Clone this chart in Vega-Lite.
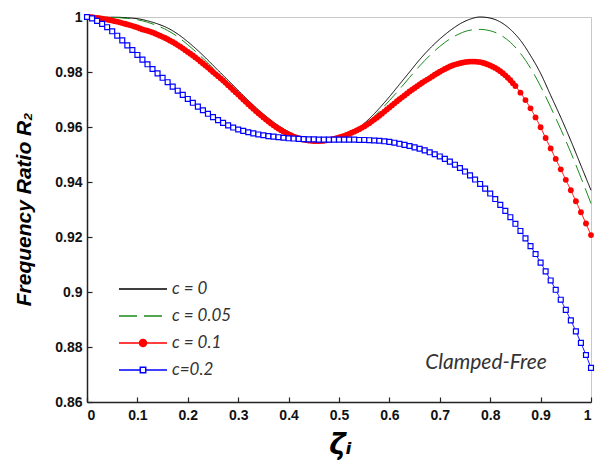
{
"$schema": "https://vega.github.io/schema/vega-lite/v6.json",
"width": 504, "height": 385,
"autosize": {"type": "none"},
"padding": {"left": 87, "top": 17, "right": 9, "bottom": 63},
"background": "white",
"config": {
 "view": {"stroke": "#c8c8c8", "strokeWidth": 1},
 "axis": {"domainColor": "#222", "domainWidth": 1.5, "tickColor": "#222", "tickWidth": 1.2, "tickSize": -5, "labelFont": "Liberation Sans", "labelFontWeight": "bold", "labelFontSize": 14, "labelColor": "#111", "grid": false, "titleFont": "Liberation Sans", "titleFontWeight": "bold", "titleFontStyle": "italic", "titleColor": "#000"}
},
"datasets": {
"main": [
{"x":0,"R":1,"c":"c = 0"},{"x":0.02,"R":1,"c":"c = 0"},{"x":0.04,"R":0.9999,"c":"c = 0"},{"x":0.06,"R":0.9999,"c":"c = 0"},{"x":0.08,"R":0.9997,"c":"c = 0"},{"x":0.1,"R":0.9994,"c":"c = 0"},{"x":0.12,"R":0.9986,"c":"c = 0"},{"x":0.14,"R":0.9975,"c":"c = 0"},{"x":0.16,"R":0.996,"c":"c = 0"},{"x":0.18,"R":0.9938,"c":"c = 0"},{"x":0.2,"R":0.991,"c":"c = 0"},{"x":0.22,"R":0.9878,"c":"c = 0"},{"x":0.24,"R":0.9843,"c":"c = 0"},{"x":0.26,"R":0.9806,"c":"c = 0"},{"x":0.28,"R":0.977,"c":"c = 0"},{"x":0.3,"R":0.9733,"c":"c = 0"},{"x":0.32,"R":0.9697,"c":"c = 0"},{"x":0.34,"R":0.9663,"c":"c = 0"},{"x":0.36,"R":0.9632,"c":"c = 0"},{"x":0.38,"R":0.9605,"c":"c = 0"},{"x":0.4,"R":0.9583,"c":"c = 0"},{"x":0.42,"R":0.9566,"c":"c = 0"},{"x":0.44,"R":0.9555,"c":"c = 0"},{"x":0.46,"R":0.955,"c":"c = 0"},{"x":0.48,"R":0.9551,"c":"c = 0"},{"x":0.5,"R":0.9558,"c":"c = 0"},{"x":0.52,"R":0.9574,"c":"c = 0"},{"x":0.54,"R":0.9598,"c":"c = 0"},{"x":0.56,"R":0.963,"c":"c = 0"},{"x":0.58,"R":0.9668,"c":"c = 0"},{"x":0.6,"R":0.971,"c":"c = 0"},{"x":0.62,"R":0.9755,"c":"c = 0"},{"x":0.64,"R":0.98,"c":"c = 0"},{"x":0.66,"R":0.9845,"c":"c = 0"},{"x":0.68,"R":0.9885,"c":"c = 0"},{"x":0.7,"R":0.992,"c":"c = 0"},{"x":0.72,"R":0.995,"c":"c = 0"},{"x":0.74,"R":0.9975,"c":"c = 0"},{"x":0.76,"R":0.9992,"c":"c = 0"},{"x":0.78,"R":1,"c":"c = 0"},{"x":0.8,"R":0.9996,"c":"c = 0"},{"x":0.82,"R":0.9982,"c":"c = 0"},{"x":0.84,"R":0.9955,"c":"c = 0"},{"x":0.86,"R":0.9915,"c":"c = 0"},{"x":0.88,"R":0.986,"c":"c = 0"},{"x":0.9,"R":0.9795,"c":"c = 0"},{"x":0.92,"R":0.9715,"c":"c = 0"},{"x":0.94,"R":0.9635,"c":"c = 0"},{"x":0.96,"R":0.955,"c":"c = 0"},{"x":0.98,"R":0.946,"c":"c = 0"},{"x":1,"R":0.937,"c":"c = 0"},
{"x":0,"R":1,"c":"c = 0.05"},{"x":0.02,"R":1,"c":"c = 0.05"},{"x":0.04,"R":0.9999,"c":"c = 0.05"},{"x":0.06,"R":0.9998,"c":"c = 0.05"},{"x":0.08,"R":0.9995,"c":"c = 0.05"},{"x":0.1,"R":0.999,"c":"c = 0.05"},{"x":0.12,"R":0.9981,"c":"c = 0.05"},{"x":0.14,"R":0.9968,"c":"c = 0.05"},{"x":0.16,"R":0.9951,"c":"c = 0.05"},{"x":0.18,"R":0.9928,"c":"c = 0.05"},{"x":0.2,"R":0.9899,"c":"c = 0.05"},{"x":0.22,"R":0.9867,"c":"c = 0.05"},{"x":0.24,"R":0.9832,"c":"c = 0.05"},{"x":0.26,"R":0.9796,"c":"c = 0.05"},{"x":0.28,"R":0.976,"c":"c = 0.05"},{"x":0.3,"R":0.9724,"c":"c = 0.05"},{"x":0.32,"R":0.9689,"c":"c = 0.05"},{"x":0.34,"R":0.9656,"c":"c = 0.05"},{"x":0.36,"R":0.9627,"c":"c = 0.05"},{"x":0.38,"R":0.9601,"c":"c = 0.05"},{"x":0.4,"R":0.958,"c":"c = 0.05"},{"x":0.42,"R":0.9564,"c":"c = 0.05"},{"x":0.44,"R":0.9554,"c":"c = 0.05"},{"x":0.46,"R":0.955,"c":"c = 0.05"},{"x":0.48,"R":0.9551,"c":"c = 0.05"},{"x":0.5,"R":0.9557,"c":"c = 0.05"},{"x":0.52,"R":0.9571,"c":"c = 0.05"},{"x":0.54,"R":0.9593,"c":"c = 0.05"},{"x":0.56,"R":0.9622,"c":"c = 0.05"},{"x":0.58,"R":0.9657,"c":"c = 0.05"},{"x":0.6,"R":0.9696,"c":"c = 0.05"},{"x":0.62,"R":0.9737,"c":"c = 0.05"},{"x":0.64,"R":0.978,"c":"c = 0.05"},{"x":0.66,"R":0.9822,"c":"c = 0.05"},{"x":0.68,"R":0.986,"c":"c = 0.05"},{"x":0.7,"R":0.9893,"c":"c = 0.05"},{"x":0.72,"R":0.992,"c":"c = 0.05"},{"x":0.74,"R":0.994,"c":"c = 0.05"},{"x":0.76,"R":0.9952,"c":"c = 0.05"},{"x":0.78,"R":0.9955,"c":"c = 0.05"},{"x":0.8,"R":0.995,"c":"c = 0.05"},{"x":0.82,"R":0.9935,"c":"c = 0.05"},{"x":0.84,"R":0.9908,"c":"c = 0.05"},{"x":0.86,"R":0.9868,"c":"c = 0.05"},{"x":0.88,"R":0.9814,"c":"c = 0.05"},{"x":0.9,"R":0.9748,"c":"c = 0.05"},{"x":0.92,"R":0.9672,"c":"c = 0.05"},{"x":0.94,"R":0.9592,"c":"c = 0.05"},{"x":0.96,"R":0.9507,"c":"c = 0.05"},{"x":0.98,"R":0.9416,"c":"c = 0.05"},{"x":1,"R":0.9322,"c":"c = 0.05"},
{"x":0,"R":1,"c":"c = 0.1"},{"x":0.01,"R":0.9999,"c":"c = 0.1"},{"x":0.02,"R":0.9997,"c":"c = 0.1"},{"x":0.03,"R":0.9994,"c":"c = 0.1"},{"x":0.04,"R":0.9991,"c":"c = 0.1"},{"x":0.05,"R":0.9987,"c":"c = 0.1"},{"x":0.06,"R":0.9983,"c":"c = 0.1"},{"x":0.07,"R":0.9978,"c":"c = 0.1"},{"x":0.08,"R":0.9973,"c":"c = 0.1"},{"x":0.09,"R":0.9968,"c":"c = 0.1"},{"x":0.1,"R":0.9962,"c":"c = 0.1"},{"x":0.11,"R":0.9955,"c":"c = 0.1"},{"x":0.12,"R":0.995,"c":"c = 0.1"},{"x":0.13,"R":0.9944,"c":"c = 0.1"},{"x":0.14,"R":0.9936,"c":"c = 0.1"},{"x":0.15,"R":0.9928,"c":"c = 0.1"},{"x":0.16,"R":0.9919,"c":"c = 0.1"},{"x":0.17,"R":0.9909,"c":"c = 0.1"},{"x":0.18,"R":0.9898,"c":"c = 0.1"},{"x":0.19,"R":0.9886,"c":"c = 0.1"},{"x":0.2,"R":0.9873,"c":"c = 0.1"},{"x":0.21,"R":0.986,"c":"c = 0.1"},{"x":0.22,"R":0.9846,"c":"c = 0.1"},{"x":0.23,"R":0.9831,"c":"c = 0.1"},{"x":0.24,"R":0.9816,"c":"c = 0.1"},{"x":0.25,"R":0.98,"c":"c = 0.1"},{"x":0.26,"R":0.9785,"c":"c = 0.1"},{"x":0.27,"R":0.9769,"c":"c = 0.1"},{"x":0.28,"R":0.9752,"c":"c = 0.1"},{"x":0.29,"R":0.9735,"c":"c = 0.1"},{"x":0.3,"R":0.9718,"c":"c = 0.1"},{"x":0.31,"R":0.97,"c":"c = 0.1"},{"x":0.32,"R":0.9683,"c":"c = 0.1"},{"x":0.33,"R":0.9666,"c":"c = 0.1"},{"x":0.34,"R":0.965,"c":"c = 0.1"},{"x":0.35,"R":0.9635,"c":"c = 0.1"},{"x":0.36,"R":0.962,"c":"c = 0.1"},{"x":0.37,"R":0.9606,"c":"c = 0.1"},{"x":0.38,"R":0.9594,"c":"c = 0.1"},{"x":0.39,"R":0.9583,"c":"c = 0.1"},{"x":0.4,"R":0.9573,"c":"c = 0.1"},{"x":0.41,"R":0.9565,"c":"c = 0.1"},{"x":0.42,"R":0.9559,"c":"c = 0.1"},{"x":0.43,"R":0.9554,"c":"c = 0.1"},{"x":0.44,"R":0.9551,"c":"c = 0.1"},{"x":0.45,"R":0.9549,"c":"c = 0.1"},{"x":0.46,"R":0.9549,"c":"c = 0.1"},{"x":0.47,"R":0.955,"c":"c = 0.1"},{"x":0.48,"R":0.9553,"c":"c = 0.1"},{"x":0.49,"R":0.9557,"c":"c = 0.1"},{"x":0.5,"R":0.9562,"c":"c = 0.1"},{"x":0.51,"R":0.9568,"c":"c = 0.1"},{"x":0.52,"R":0.9575,"c":"c = 0.1"},{"x":0.53,"R":0.9583,"c":"c = 0.1"},{"x":0.54,"R":0.9592,"c":"c = 0.1"},{"x":0.55,"R":0.9602,"c":"c = 0.1"},{"x":0.56,"R":0.9614,"c":"c = 0.1"},{"x":0.57,"R":0.9627,"c":"c = 0.1"},{"x":0.58,"R":0.9641,"c":"c = 0.1"},{"x":0.59,"R":0.9656,"c":"c = 0.1"},{"x":0.6,"R":0.9671,"c":"c = 0.1"},{"x":0.61,"R":0.9686,"c":"c = 0.1"},{"x":0.62,"R":0.9701,"c":"c = 0.1"},{"x":0.63,"R":0.9715,"c":"c = 0.1"},{"x":0.64,"R":0.9729,"c":"c = 0.1"},{"x":0.65,"R":0.9742,"c":"c = 0.1"},{"x":0.66,"R":0.9755,"c":"c = 0.1"},{"x":0.67,"R":0.9767,"c":"c = 0.1"},{"x":0.68,"R":0.9778,"c":"c = 0.1"},{"x":0.69,"R":0.979,"c":"c = 0.1"},{"x":0.7,"R":0.9801,"c":"c = 0.1"},{"x":0.71,"R":0.9811,"c":"c = 0.1"},{"x":0.72,"R":0.982,"c":"c = 0.1"},{"x":0.73,"R":0.9827,"c":"c = 0.1"},{"x":0.74,"R":0.9832,"c":"c = 0.1"},{"x":0.75,"R":0.9836,"c":"c = 0.1"},{"x":0.76,"R":0.9838,"c":"c = 0.1"},{"x":0.77,"R":0.9838,"c":"c = 0.1"},{"x":0.78,"R":0.9836,"c":"c = 0.1"},{"x":0.79,"R":0.9831,"c":"c = 0.1"},{"x":0.8,"R":0.9824,"c":"c = 0.1"},{"x":0.81,"R":0.9815,"c":"c = 0.1"},{"x":0.82,"R":0.9803,"c":"c = 0.1"},{"x":0.83,"R":0.9788,"c":"c = 0.1"},{"x":0.84,"R":0.977,"c":"c = 0.1"},{"x":0.85,"R":0.9749,"c":"c = 0.1"},{"x":0.86,"R":0.9725,"c":"c = 0.1"},{"x":0.87,"R":0.9698,"c":"c = 0.1"},{"x":0.88,"R":0.9668,"c":"c = 0.1"},{"x":0.89,"R":0.9635,"c":"c = 0.1"},{"x":0.9,"R":0.9599,"c":"c = 0.1"},{"x":0.91,"R":0.956,"c":"c = 0.1"},{"x":0.92,"R":0.9522,"c":"c = 0.1"},{"x":0.93,"R":0.9484,"c":"c = 0.1"},{"x":0.94,"R":0.9446,"c":"c = 0.1"},{"x":0.95,"R":0.9408,"c":"c = 0.1"},{"x":0.96,"R":0.937,"c":"c = 0.1"},{"x":0.97,"R":0.933,"c":"c = 0.1"},{"x":0.98,"R":0.929,"c":"c = 0.1"},{"x":0.99,"R":0.9249,"c":"c = 0.1"},{"x":1,"R":0.9207,"c":"c = 0.1"},
{"x":0.005,"R":0.99995,"c":"c = 0.1"},{"x":0.015,"R":0.9998,"c":"c = 0.1"},{"x":0.025,"R":0.99955,"c":"c = 0.1"},{"x":0.035,"R":0.99925,"c":"c = 0.1"},{"x":0.045,"R":0.9989,"c":"c = 0.1"},{"x":0.055,"R":0.9985,"c":"c = 0.1"},{"x":0.065,"R":0.99805,"c":"c = 0.1"},{"x":0.075,"R":0.99755,"c":"c = 0.1"},{"x":0.085,"R":0.99705,"c":"c = 0.1"},{"x":0.095,"R":0.9965,"c":"c = 0.1"},{"x":0.105,"R":0.99585,"c":"c = 0.1"},{"x":0.115,"R":0.99525,"c":"c = 0.1"},{"x":0.125,"R":0.9947,"c":"c = 0.1"},{"x":0.135,"R":0.994,"c":"c = 0.1"},{"x":0.145,"R":0.9932,"c":"c = 0.1"},{"x":0.155,"R":0.99235,"c":"c = 0.1"},{"x":0.165,"R":0.9914,"c":"c = 0.1"},{"x":0.175,"R":0.99035,"c":"c = 0.1"},{"x":0.185,"R":0.9892,"c":"c = 0.1"},{"x":0.195,"R":0.98795,"c":"c = 0.1"},{"x":0.205,"R":0.98665,"c":"c = 0.1"},{"x":0.215,"R":0.9853,"c":"c = 0.1"},{"x":0.225,"R":0.98385,"c":"c = 0.1"},{"x":0.235,"R":0.98235,"c":"c = 0.1"},{"x":0.245,"R":0.9808,"c":"c = 0.1"},{"x":0.255,"R":0.97925,"c":"c = 0.1"},{"x":0.265,"R":0.9777,"c":"c = 0.1"},{"x":0.275,"R":0.97605,"c":"c = 0.1"},{"x":0.285,"R":0.97435,"c":"c = 0.1"},{"x":0.295,"R":0.97265,"c":"c = 0.1"},{"x":0.305,"R":0.9709,"c":"c = 0.1"},{"x":0.315,"R":0.96915,"c":"c = 0.1"},{"x":0.325,"R":0.96745,"c":"c = 0.1"},{"x":0.335,"R":0.9658,"c":"c = 0.1"},{"x":0.345,"R":0.96425,"c":"c = 0.1"},{"x":0.355,"R":0.96275,"c":"c = 0.1"},{"x":0.365,"R":0.9613,"c":"c = 0.1"},{"x":0.375,"R":0.96,"c":"c = 0.1"},{"x":0.385,"R":0.95885,"c":"c = 0.1"},{"x":0.395,"R":0.9578,"c":"c = 0.1"},{"x":0.405,"R":0.9569,"c":"c = 0.1"},{"x":0.415,"R":0.9562,"c":"c = 0.1"},{"x":0.425,"R":0.95565,"c":"c = 0.1"},{"x":0.435,"R":0.95525,"c":"c = 0.1"},{"x":0.445,"R":0.955,"c":"c = 0.1"},{"x":0.455,"R":0.9549,"c":"c = 0.1"},{"x":0.465,"R":0.95495,"c":"c = 0.1"},{"x":0.475,"R":0.95515,"c":"c = 0.1"},{"x":0.485,"R":0.9555,"c":"c = 0.1"},{"x":0.495,"R":0.95595,"c":"c = 0.1"},{"x":0.505,"R":0.9565,"c":"c = 0.1"},{"x":0.515,"R":0.95715,"c":"c = 0.1"},{"x":0.525,"R":0.9579,"c":"c = 0.1"},{"x":0.535,"R":0.95875,"c":"c = 0.1"},{"x":0.545,"R":0.9597,"c":"c = 0.1"},{"x":0.555,"R":0.9608,"c":"c = 0.1"},{"x":0.565,"R":0.96205,"c":"c = 0.1"},{"x":0.575,"R":0.9634,"c":"c = 0.1"},{"x":0.585,"R":0.96485,"c":"c = 0.1"},{"x":0.595,"R":0.96635,"c":"c = 0.1"},{"x":0.605,"R":0.96785,"c":"c = 0.1"},{"x":0.615,"R":0.96935,"c":"c = 0.1"},{"x":0.625,"R":0.9708,"c":"c = 0.1"},{"x":0.635,"R":0.9722,"c":"c = 0.1"},{"x":0.645,"R":0.97355,"c":"c = 0.1"},{"x":0.655,"R":0.97485,"c":"c = 0.1"},{"x":0.665,"R":0.9761,"c":"c = 0.1"},{"x":0.675,"R":0.97725,"c":"c = 0.1"},{"x":0.685,"R":0.9784,"c":"c = 0.1"},{"x":0.695,"R":0.97955,"c":"c = 0.1"},{"x":0.705,"R":0.9806,"c":"c = 0.1"},{"x":0.715,"R":0.98155,"c":"c = 0.1"},{"x":0.725,"R":0.98235,"c":"c = 0.1"},{"x":0.735,"R":0.98295,"c":"c = 0.1"},{"x":0.745,"R":0.9834,"c":"c = 0.1"},{"x":0.755,"R":0.9837,"c":"c = 0.1"},{"x":0.765,"R":0.9838,"c":"c = 0.1"},{"x":0.775,"R":0.9837,"c":"c = 0.1"},{"x":0.785,"R":0.98335,"c":"c = 0.1"},{"x":0.795,"R":0.98275,"c":"c = 0.1"},{"x":0.805,"R":0.98195,"c":"c = 0.1"},{"x":0.815,"R":0.9809,"c":"c = 0.1"},{"x":0.825,"R":0.97955,"c":"c = 0.1"},{"x":0.835,"R":0.9779,"c":"c = 0.1"},{"x":0.845,"R":0.97595,"c":"c = 0.1"},
{"x":0,"R":1,"c":"c=0.2"},{"x":0.01,"R":0.9995,"c":"c=0.2"},{"x":0.02,"R":0.9986,"c":"c=0.2"},{"x":0.03,"R":0.9975,"c":"c=0.2"},{"x":0.04,"R":0.9963,"c":"c=0.2"},{"x":0.05,"R":0.9948,"c":"c=0.2"},{"x":0.06,"R":0.9932,"c":"c=0.2"},{"x":0.07,"R":0.9915,"c":"c=0.2"},{"x":0.08,"R":0.9897,"c":"c=0.2"},{"x":0.09,"R":0.988,"c":"c=0.2"},{"x":0.1,"R":0.9862,"c":"c=0.2"},{"x":0.11,"R":0.9845,"c":"c=0.2"},{"x":0.12,"R":0.9828,"c":"c=0.2"},{"x":0.13,"R":0.9811,"c":"c=0.2"},{"x":0.14,"R":0.9795,"c":"c=0.2"},{"x":0.15,"R":0.9779,"c":"c=0.2"},{"x":0.16,"R":0.9763,"c":"c=0.2"},{"x":0.17,"R":0.9747,"c":"c=0.2"},{"x":0.18,"R":0.9732,"c":"c=0.2"},{"x":0.19,"R":0.9717,"c":"c=0.2"},{"x":0.2,"R":0.9702,"c":"c=0.2"},{"x":0.21,"R":0.9688,"c":"c=0.2"},{"x":0.22,"R":0.9674,"c":"c=0.2"},{"x":0.23,"R":0.9661,"c":"c=0.2"},{"x":0.24,"R":0.9648,"c":"c=0.2"},{"x":0.25,"R":0.9636,"c":"c=0.2"},{"x":0.26,"R":0.9625,"c":"c=0.2"},{"x":0.27,"R":0.9615,"c":"c=0.2"},{"x":0.28,"R":0.9606,"c":"c=0.2"},{"x":0.29,"R":0.9598,"c":"c=0.2"},{"x":0.3,"R":0.9591,"c":"c=0.2"},{"x":0.31,"R":0.9586,"c":"c=0.2"},{"x":0.32,"R":0.9581,"c":"c=0.2"},{"x":0.33,"R":0.9577,"c":"c=0.2"},{"x":0.34,"R":0.9573,"c":"c=0.2"},{"x":0.35,"R":0.957,"c":"c=0.2"},{"x":0.36,"R":0.9567,"c":"c=0.2"},{"x":0.37,"R":0.9565,"c":"c=0.2"},{"x":0.38,"R":0.9563,"c":"c=0.2"},{"x":0.39,"R":0.9561,"c":"c=0.2"},{"x":0.4,"R":0.9559,"c":"c=0.2"},{"x":0.41,"R":0.9558,"c":"c=0.2"},{"x":0.42,"R":0.9557,"c":"c=0.2"},{"x":0.43,"R":0.9556,"c":"c=0.2"},{"x":0.44,"R":0.9555,"c":"c=0.2"},{"x":0.45,"R":0.9555,"c":"c=0.2"},{"x":0.46,"R":0.9554,"c":"c=0.2"},{"x":0.47,"R":0.9554,"c":"c=0.2"},{"x":0.48,"R":0.9554,"c":"c=0.2"},{"x":0.49,"R":0.9554,"c":"c=0.2"},{"x":0.5,"R":0.9554,"c":"c=0.2"},{"x":0.51,"R":0.9554,"c":"c=0.2"},{"x":0.52,"R":0.9554,"c":"c=0.2"},{"x":0.53,"R":0.9554,"c":"c=0.2"},{"x":0.54,"R":0.9553,"c":"c=0.2"},{"x":0.55,"R":0.9553,"c":"c=0.2"},{"x":0.56,"R":0.9552,"c":"c=0.2"},{"x":0.57,"R":0.9551,"c":"c=0.2"},{"x":0.58,"R":0.955,"c":"c=0.2"},{"x":0.59,"R":0.9548,"c":"c=0.2"},{"x":0.6,"R":0.9546,"c":"c=0.2"},{"x":0.61,"R":0.9543,"c":"c=0.2"},{"x":0.62,"R":0.9539,"c":"c=0.2"},{"x":0.63,"R":0.9535,"c":"c=0.2"},{"x":0.64,"R":0.9531,"c":"c=0.2"},{"x":0.65,"R":0.9526,"c":"c=0.2"},{"x":0.66,"R":0.9521,"c":"c=0.2"},{"x":0.67,"R":0.9515,"c":"c=0.2"},{"x":0.68,"R":0.9508,"c":"c=0.2"},{"x":0.69,"R":0.9501,"c":"c=0.2"},{"x":0.7,"R":0.9493,"c":"c=0.2"},{"x":0.71,"R":0.9484,"c":"c=0.2"},{"x":0.72,"R":0.9474,"c":"c=0.2"},{"x":0.73,"R":0.9463,"c":"c=0.2"},{"x":0.74,"R":0.9451,"c":"c=0.2"},{"x":0.75,"R":0.9438,"c":"c=0.2"},{"x":0.76,"R":0.9424,"c":"c=0.2"},{"x":0.77,"R":0.9409,"c":"c=0.2"},{"x":0.78,"R":0.9393,"c":"c=0.2"},{"x":0.79,"R":0.9376,"c":"c=0.2"},{"x":0.8,"R":0.9358,"c":"c=0.2"},{"x":0.81,"R":0.9338,"c":"c=0.2"},{"x":0.82,"R":0.9317,"c":"c=0.2"},{"x":0.83,"R":0.9295,"c":"c=0.2"},{"x":0.84,"R":0.9272,"c":"c=0.2"},{"x":0.85,"R":0.9248,"c":"c=0.2"},{"x":0.86,"R":0.9222,"c":"c=0.2"},{"x":0.87,"R":0.9195,"c":"c=0.2"},{"x":0.88,"R":0.9167,"c":"c=0.2"},{"x":0.89,"R":0.9138,"c":"c=0.2"},{"x":0.9,"R":0.9107,"c":"c=0.2"},{"x":0.91,"R":0.9075,"c":"c=0.2"},{"x":0.92,"R":0.9042,"c":"c=0.2"},{"x":0.93,"R":0.9008,"c":"c=0.2"},{"x":0.94,"R":0.8972,"c":"c=0.2"},{"x":0.95,"R":0.8935,"c":"c=0.2"},{"x":0.96,"R":0.8897,"c":"c=0.2"},{"x":0.97,"R":0.8857,"c":"c=0.2"},{"x":0.98,"R":0.8815,"c":"c=0.2"},{"x":0.99,"R":0.8771,"c":"c=0.2"},{"x":1,"R":0.8724,"c":"c=0.2"}
],
"note": [{"x":0.7917,"R":0.8742,"label":"Clamped-Free"}]
},
"data": {"name": "main"},
"encoding": {
 "x": {"field": "x", "type": "quantitative", "scale": {"domain": [0, 1], "nice": false},
   "axis": {"values": [0,0.1,0.2,0.3,0.4,0.5,0.6,0.7,0.8,0.9,1], "format": ".1~f", "labelPadding": 11, "title": "ζᵢ", "titleFont": "DejaVu Sans", "titleFontSize": 28, "titleX": 253, "titleY": 43, "titleBaseline": "middle", "titleAlign": "center"}},
 "y": {"field": "R", "type": "quantitative", "scale": {"domain": [0.86, 1], "nice": false, "zero": false},
   "axis": {"values": [0.86,0.88,0.9,0.92,0.94,0.96,0.98,1], "format": ".2~f", "labelPadding": 10, "title": "Frequency Ratio R₂", "titleFontSize": 21, "titleX": -63, "titleY": 192, "titleAngle": -90, "titleAlign": "center", "titleBaseline": "middle"}}
},
"layer": [
 {"mark": {"type": "line", "strokeWidth": 1, "interpolate": "monotone"},
  "encoding": {
   "stroke": {"field": "c", "type": "nominal",
     "scale": {"domain": ["c = 0", "c = 0.05", "c = 0.1", "c=0.2"], "range": ["#000000", "#1a8a1a", "#ff0000", "#0000ff"]},
     "legend": {"title": null, "orient": "none", "legendX": 45, "legendY": 261, "padding": 0, "symbolSize": 400, "symbolStrokeWidth": 1.5, "labelOffset": 18, "labelFont": "Lato", "labelFontStyle": "italic", "labelFontSize": 17, "labelColor": "#333", "rowPadding": 8,
       "encode": {"symbols": {"update": {
         "shape": {"signal": "datum.value === 'c = 0.1' ? 'M-2.4,0H2.4M-0.35,0A0.35,0.35 0 1,1 0.35,0A0.35,0.35 0 1,1 -0.35,0Z' : datum.value === 'c=0.2' ? 'M-2.4,0H-0.27M0.27,0H2.4M-0.27,-0.27H0.27V0.27H-0.27Z' : 'M-2.4,0H2.4'"},
         "fill": {"signal": "datum.value === 'c = 0.1' ? '#ff0000' : datum.value === 'c=0.2' ? '#ffffff' : 'transparent'"},
         "fillOpacity": {"value": 1},
         "size": {"value": 400}}}}}},
   "strokeDash": {"field": "c", "type": "nominal",
     "scale": {"domain": ["c = 0", "c = 0.05", "c = 0.1", "c=0.2"], "range": [[1,0],[18,7],[1,0],[1,0]]},
     "legend": {"title": null, "orient": "none", "legendX": 45, "legendY": 261, "padding": 0, "symbolSize": 400, "symbolStrokeWidth": 1.5, "labelOffset": 18, "labelFont": "Lato", "labelFontStyle": "italic", "labelFontSize": 17, "labelColor": "#333", "rowPadding": 8}}
  }},
 {"transform": [{"filter": "datum.c === 'c = 0.1'"}],
  "mark": {"type": "point", "shape": "circle", "filled": true, "color": "#ff0000", "size": 34, "opacity": 1}},
 {"transform": [{"filter": "datum.c === 'c=0.2'"}],
  "mark": {"type": "point", "shape": "square", "filled": true, "fill": "#ffffff", "stroke": "#0000ff", "strokeWidth": 1.2, "size": 24, "opacity": 1}},
 {"data": {"name": "note"},
  "mark": {"type": "text", "font": "Lato", "fontStyle": "italic", "fontSize": 21, "color": "#333", "align": "center", "baseline": "middle"},
  "encoding": {"text": {"field": "label"}}}
]
}
